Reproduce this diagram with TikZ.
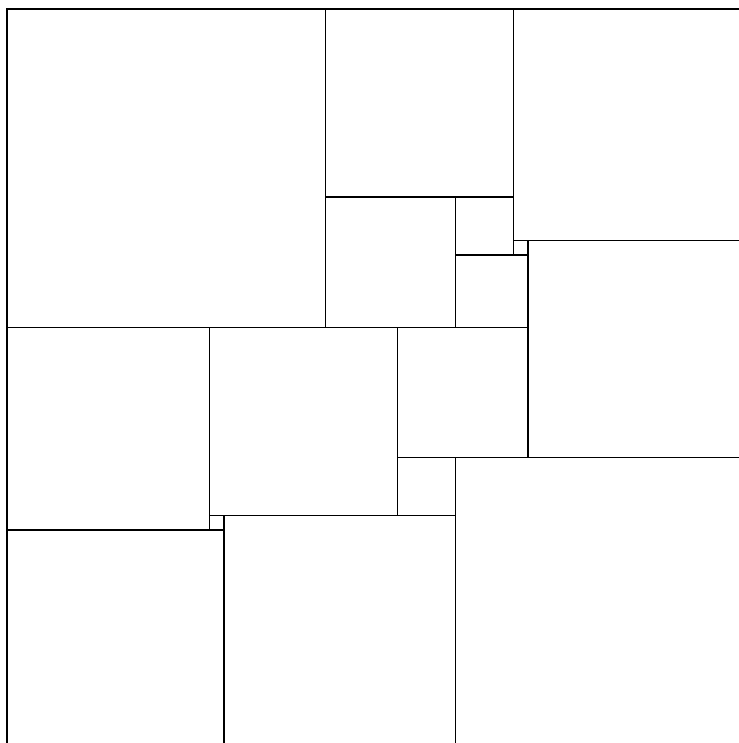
\documentclass[tikz,border=0pt]{standalone}
\begin{document}
\begin{tikzpicture}[x=0.1cm,y=0.1cm,sq/.style={draw=black,line width=0.5pt}]
\useasboundingbox (-0.967,0.55) rectangle (101.17,103.244);
\clip (-0.967,0.55) rectangle (101.17,103.244);
% squares: (x,y) lower-left in units, y measured up; top of big square at 102
\draw[sq] (0,58) rectangle (44,102);   % 44
\draw[sq] (44,76) rectangle (70,102);  % 26
\draw[sq] (70,70) rectangle (102,102); % 32
\draw[sq] (44,58) rectangle (62,76);   % 18
\draw[sq] (62,68) rectangle (70,76);   % 8
\draw[sq] (62,58) rectangle (72,68);   % 10
\draw[sq] (70,68) rectangle (72,70);   % 2
\draw[sq] (72,40) rectangle (102,70);  % 30
\draw[sq] (0,30) rectangle (28,58);    % 28
\draw[sq] (28,32) rectangle (54,58);   % 26
\draw[sq] (54,40) rectangle (72,58);   % 18
\draw[sq] (54,32) rectangle (62,40);   % 8
\draw[sq] (28,30) rectangle (30,32);   % 2
\draw[sq] (0,0) rectangle (30,30);     % 30
\draw[sq] (30,0) rectangle (62,32);    % 32
\draw[sq] (62,0) rectangle (102,40);   % 40
\end{tikzpicture}
\end{document}
